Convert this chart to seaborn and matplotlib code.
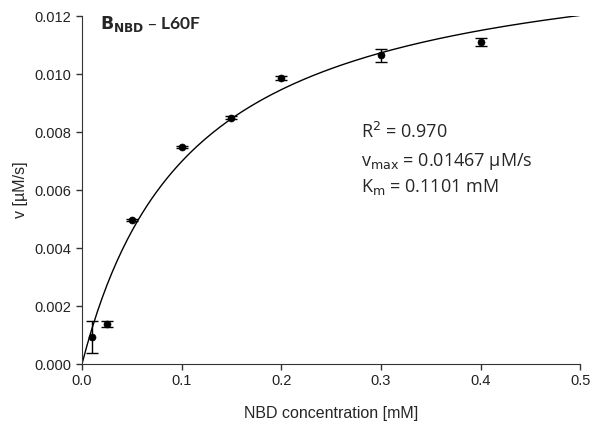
import numpy as np
import pandas as pd
import seaborn as sns
import matplotlib.pyplot as plt

conc = [0.01, 0.025, 0.05, 0.1, 0.15, 0.2, 0.3, 0.4]
rate = [0.00093, 0.00138, 0.00497, 0.00749, 0.00849, 0.00987, 0.01064, 0.01110]
rate_err = [0.00055, 0.00012, 0.00004, 0.00004, 0.00005, 0.00006, 0.00021, 0.00013]

# Michaelis-Menten fit parameters shown on the chart
vmax = 0.01467
km = 0.1101
r2 = 0.970

df = pd.DataFrame({'conc': conc, 'rate': rate, 'err': rate_err})
x_fit = np.linspace(0, 0.5, 200)
fit = pd.DataFrame({'conc': x_fit, 'rate': vmax * x_fit / (km + x_fit)})

sns.set_style('ticks')
plt.rcParams['font.family'] = ['Liberation Sans', 'DejaVu Sans']

fig = plt.figure(figsize=(5.92, 4.28), dpi=100)
ax = fig.add_axes([0.1385, 0.1495, 0.8415, 0.813])

sns.lineplot(data=fit, x='conc', y='rate', color='black', linewidth=1.0, ax=ax)
ax.errorbar(df['conc'], df['rate'], yerr=df['err'], fmt='none', ecolor='black',
            elinewidth=1.0, capsize=4, capthick=1.0)
sns.scatterplot(data=df, x='conc', y='rate', color='black', s=26, edgecolor='black', ax=ax, zorder=3)

ax.set_xlim(0, 0.5)
ax.set_ylim(0, 0.012)
ax.set_xticks([0.0, 0.1, 0.2, 0.3, 0.4, 0.5])
ax.set_yticks([0.000, 0.002, 0.004, 0.006, 0.008, 0.010, 0.012])
ax.set_xticklabels(['0.0', '0.1', '0.2', '0.3', '0.4', '0.5'])
ax.set_yticklabels(['0.000', '0.002', '0.004', '0.006', '0.008', '0.010', '0.012'])
ax.tick_params(labelsize=10.5, length=4, width=1, color='#333333', labelcolor='#222222')
for s in ['left', 'bottom']:
    ax.spines[s].set_color('#333333')
sns.despine(ax=ax)

ax.set_xlabel('NBD concentration [mM]', fontsize=11.5, labelpad=13)
ax.set_ylabel('v [µM/s]', fontsize=11.5, labelpad=5)

ax.text(0.018, 0.01172, r'$\mathbf{B_{NBD}}$ – L60F', fontsize=12.5, fontweight='bold',
        family=['Lato', 'DejaVu Sans'], va='center')
ann_font = ['Open Sans', 'DejaVu Sans']
ax.text(0.28, 0.0080, f'R$^2$ = {r2:.3f}', fontsize=13, family=ann_font, va='center')
ax.text(0.28, 0.0070, f'v$_{{\\rm max}}$ = {vmax} µM/s', fontsize=13, family=ann_font, va='center')
ax.text(0.28, 0.0061, f'K$_{{\\rm m}}$ = {km} mM', fontsize=13, family=ann_font, va='center')

plt.savefig('out.png', dpi=100)
